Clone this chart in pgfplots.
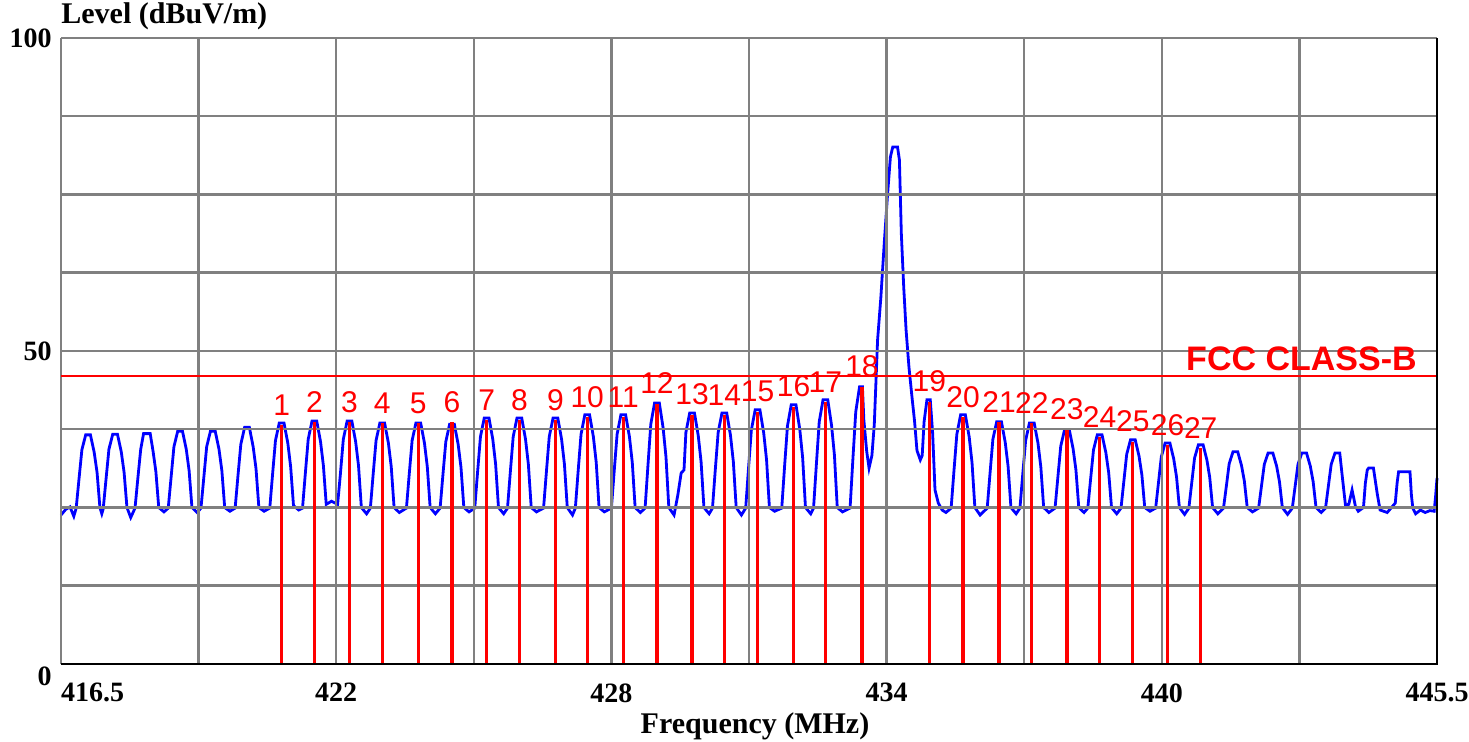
\documentclass[border=0pt]{standalone}
\usepackage{fontspec}
\setmainfont{Liberation Serif}
\newfontfamily\arial{Liberation Sans}
\usepackage{pgfplots}
\usepackage{pgfplotstable}
\pgfplotsset{compat=1.18}
\definecolor{gridgray}{RGB}{128,128,128}
\definecolor{tracebl}{RGB}{0,0,255}
\definecolor{mkred}{RGB}{255,0,0}

% measured level, MHz vs dBuV/m
\pgfplotstableread{
f lvl
416.50 23.8
416.60 24.7
416.69 25.1
416.77 23.6
416.82 24.9
416.88 29.6
416.94 34.2
417.02 36.6
417.12 36.6
417.20 33.8
417.26 30.6
417.32 25.0
417.36 24.0
417.39 24.8
417.45 29.6
417.51 34.3
417.59 36.7
417.69 36.7
417.77 33.9
417.83 30.6
417.89 25.0
417.97 23.4
418.06 24.9
418.12 29.7
418.18 34.3
418.24 36.8
418.38 36.8
418.44 34.0
418.50 30.7
418.56 25.0
418.67 24.3
418.76 24.9
418.82 29.8
418.88 34.7
418.96 37.2
419.06 37.2
419.14 34.3
419.20 30.9
419.26 25.0
419.37 24.2
419.45 24.9
419.51 29.8
419.57 34.7
419.65 37.2
419.75 37.2
419.83 34.3
419.89 30.9
419.95 25.0
420.06 24.4
420.17 24.9
420.23 30.1
420.29 35.1
420.37 37.8
420.47 37.8
420.55 34.7
420.61 31.2
420.67 25.0
420.78 24.4
420.90 24.9
420.96 30.4
421.02 35.7
421.10 38.5
421.20 38.5
421.28 35.3
421.34 31.5
421.40 25.3
421.51 24.6
421.59 24.9
421.65 30.5
421.71 35.9
421.79 38.8
421.89 38.8
421.97 35.5
422.03 31.7
422.09 25.5
422.20 26.0
422.33 25.5
422.39 30.5
422.45 35.9
422.53 38.8
422.63 38.8
422.71 35.5
422.77 31.7
422.83 25.0
422.94 24.0
423.02 24.9
423.08 30.4
423.14 35.7
423.22 38.5
423.32 38.5
423.40 35.3
423.46 31.5
423.52 25.0
423.63 24.2
423.78 24.9
423.84 30.4
423.90 35.7
423.98 38.5
424.08 38.5
424.16 35.3
424.22 31.5
424.28 25.0
424.39 24.0
424.49 24.9
424.55 30.3
424.61 35.5
424.69 38.3
424.79 38.3
424.87 35.1
424.93 31.4
424.99 25.0
425.10 24.3
425.22 24.9
425.28 30.7
425.34 36.3
425.42 39.3
425.52 39.3
425.60 35.9
425.66 31.9
425.72 25.0
425.83 24.0
425.91 24.9
425.97 30.7
426.03 36.3
426.11 39.3
426.21 39.3
426.29 35.9
426.35 31.9
426.41 25.0
426.52 24.3
426.67 24.9
426.73 30.7
426.79 36.3
426.87 39.3
426.97 39.3
427.05 35.9
427.11 31.9
427.17 25.0
427.28 23.8
427.34 24.9
427.40 30.9
427.46 36.7
427.54 39.8
427.64 39.8
427.72 36.3
427.78 32.2
427.84 25.0
427.95 24.3
428.10 24.9
428.16 30.9
428.22 36.7
428.30 39.8
428.40 39.8
428.48 36.3
428.54 32.2
428.60 25.0
428.71 24.2
428.81 24.9
428.87 31.7
428.93 38.3
429.01 41.7
429.11 41.7
429.19 37.7
429.25 33.1
429.31 25.0
429.42 23.8
429.50 27.0
429.57 30.5
429.63 31.0
429.67 37.0
429.75 40.1
429.85 40.1
429.93 36.5
429.99 32.3
430.05 25.0
430.16 24.0
430.23 24.9
430.29 31.1
430.35 37.0
430.43 40.1
430.53 40.1
430.61 36.5
430.67 32.3
430.73 25.0
430.84 23.8
430.93 24.9
430.99 31.3
431.05 37.4
431.13 40.6
431.23 40.6
431.31 36.9
431.37 32.6
431.43 25.0
431.54 24.4
431.69 24.9
431.75 31.6
431.81 38.0
431.89 41.4
431.99 41.4
432.07 37.5
432.13 33.0
432.19 25.0
432.30 24.0
432.36 24.9
432.42 31.9
432.48 38.7
432.56 42.2
432.66 42.2
432.74 38.1
432.80 33.4
432.86 25.0
432.97 24.3
433.13 24.9
433.19 32.8
433.25 40.3
433.33 44.3
433.39 44.3
433.42 39.0
433.48 34.0
433.53 31.3
433.59 33.3
433.64 38.2
433.71 51.8
433.78 58.7
433.85 67.2
433.92 75.0
433.98 81.0
434.03 82.6
434.13 82.6
434.17 80.5
434.21 68.8
434.26 60.3
434.31 53.4
434.37 47.5
434.43 43.0
434.49 38.7
434.54 34.1
434.61 32.6
434.65 33.3
434.69 38.7
434.75 42.2
434.82 42.2
434.87 36.9
434.92 27.8
434.99 25.7
435.07 24.6
435.15 24.2
435.26 24.9
435.32 30.9
435.38 36.7
435.46 39.8
435.56 39.8
435.64 36.3
435.70 32.2
435.76 25.0
435.87 23.8
436.02 24.9
436.08 30.5
436.14 35.9
436.22 38.7
436.32 38.7
436.40 35.4
436.46 31.6
436.52 25.0
436.63 24.0
436.71 24.9
436.77 30.4
436.83 35.7
436.91 38.5
437.01 38.5
437.09 35.3
437.15 31.5
437.21 25.0
437.32 24.2
437.45 24.9
437.51 29.9
437.57 34.8
437.65 37.4
437.75 37.4
437.83 34.4
437.89 31.0
437.95 25.0
438.06 24.2
438.14 24.9
438.20 29.6
438.26 34.2
438.34 36.6
438.44 36.6
438.52 33.8
438.58 30.6
438.64 25.0
438.75 24.0
438.84 24.9
438.90 29.2
438.96 33.5
439.04 35.8
439.14 35.8
439.22 33.2
439.28 30.2
439.34 25.0
439.45 24.4
439.57 24.9
439.63 29.0
439.69 33.1
439.77 35.3
439.87 35.3
439.95 32.8
440.01 29.9
440.07 25.0
440.18 23.9
440.27 24.9
440.33 28.9
440.39 32.9
440.47 35.0
440.57 35.0
440.65 32.6
440.71 29.8
440.77 25.0
440.88 24.0
441.00 24.9
441.06 28.4
441.12 32.0
441.20 33.9
441.30 33.9
441.38 31.7
441.44 29.2
441.50 25.0
441.61 24.3
441.74 24.9
441.80 28.4
441.86 31.9
441.94 33.7
442.04 33.7
442.12 31.6
442.18 29.1
442.24 25.0
442.35 23.9
442.45 24.9
442.51 28.4
442.57 31.9
442.65 33.7
442.75 33.7
442.83 31.6
442.89 29.1
442.95 25.0
443.06 24.2
443.15 24.9
443.21 28.4
443.27 31.9
443.35 33.7
443.45 33.7
443.51 29.5
443.57 25.4
443.64 25.5
443.71 27.8
443.78 25.2
443.84 24.4
443.95 25.0
443.99 28.9
444.03 31.0
444.06 31.3
444.16 31.3
444.24 27.2
444.30 24.6
444.45 24.2
444.62 25.7
444.66 29.0
444.69 30.7
444.93 30.7
444.96 27.0
444.99 24.9
445.05 24.0
445.15 24.6
445.25 24.2
445.35 24.5
445.44 24.4
445.47 26.8
445.50 29.7
}\tracetab

% markers: frequency, level, number
\pgfplotstableread{
f lvl n
421.15 38.2 1
421.84 38.6 2
422.58 38.6 3
423.27 38.5 4
424.03 38.5 5
424.74 38.6 6
425.47 39.0 7
426.16 38.9 8
426.92 38.9 9
427.59 39.4 10
428.35 39.4 11
429.06 41.6 12
429.80 39.8 13
430.48 39.8 14
431.18 40.3 15
431.94 41.1 16
432.61 41.9 17
433.38 44.3 18
434.80 41.9 19
435.51 39.4 20
436.27 38.6 21
436.96 38.5 22
437.70 37.4 23
438.39 36.3 24
439.09 35.5 25
439.82 35.0 26
440.52 34.5 27
}\marktab

\begin{document}
\begin{tikzpicture}
\begin{axis}[
  set layers,
  scale only axis, width=688pt, height=313pt,
  xmin=416.5, xmax=445.5, ymin=0, ymax=100,
  clip=false,
  axis line style={draw=none},
  major tick length=0pt,
  grid=major,
  grid style={gridgray, line width=1.25pt},
  xtick={416.5,419.4,422.3,425.2,428.1,431,433.9,436.8,439.7,442.6,445.5},
  xticklabels={\makebox[0pt][l]{416.5},{},422,{},428,{},434,{},440,{},445.5},
  ytick={0,12.5,25,37.5,50,62.5,75,87.5,100},
  yticklabels={{},{},{},{},50,{},{},{},100},
  extra y ticks={0},
  extra y tick labels={0},
  extra y tick style={yticklabel style={yshift=-6pt}},
  ticklabel style={font=\fontsize{14}{16}\selectfont\bfseries, inner sep=0pt},
  xticklabel style={yshift=-9.5pt},
  yticklabel style={xshift=-4.5pt},
  xlabel={Frequency (MHz)},
  xlabel style={font=\fontsize{15}{17}\selectfont\bfseries, at={(axis description cs:0.5,0)}, anchor=north, inner sep=0pt, yshift=-24pt, xshift=3pt},
  ylabel={Level (dBuV/m)},
  ylabel style={font=\fontsize{15}{17}\selectfont\bfseries, rotate=-90, at={(axis description cs:0,1)}, anchor=base west, inner sep=0pt, yshift=7pt},
]
\addplot[tracebl, line width=1.4pt, mark=none, on layer=axis background] table[x=f, y=lvl] {\tracetab};
\addplot[mkred, line width=1.6pt, ycomb, mark=none,
  nodes near coords, point meta=explicit symbolic,
  every node near coord/.append style={anchor=south, inner sep=0pt, yshift=4pt, font=\arial\fontsize{15}{15}\selectfont, text=mkred}]
  table[x=f, y=lvl, meta=n] {\marktab};
\addplot[mkred, line width=1.35pt, mark=none] coordinates {(416.5,46) (445.5,46)}
  node[pos=1, anchor=base east, inner sep=0pt, xshift=-9.5pt, yshift=3pt, font=\arial\bfseries\fontsize{17}{17}\selectfont, text=mkred] {FCC CLASS-B};
\draw[black, line width=0.75pt] (rel axis cs:0,0) -- (rel axis cs:1,0) -- (rel axis cs:1,1);
\end{axis}
\pgfresetboundingbox
\path[use as bounding box] ([shift={(-30.5pt,-39pt)}]current axis.south west) rectangle ([shift={(16pt,19pt)}]current axis.north east);
\end{tikzpicture}
\end{document}
